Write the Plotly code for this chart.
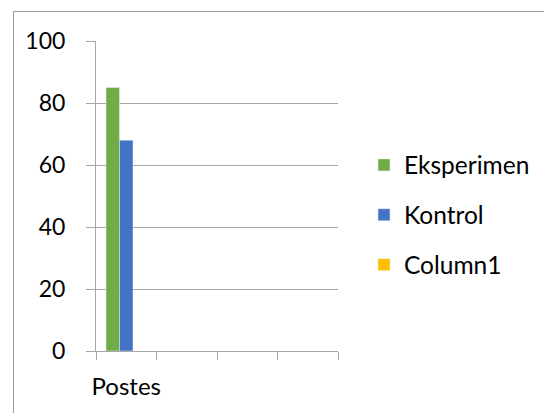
import plotly.graph_objects as go

categories = ["Postes", " ", "  ", "   "]
eksperimen = [85, None, None, None]
kontrol = [68, None, None, None]
column1 = [None, None, None, None]
y_ticks = [0, 20, 40, 60, 80, 100]

FONT = "Lato"
GRID = "#A6A6A6"
OFF = 8  # page body margin offset

fig = go.Figure()
fig.add_bar(x=categories, y=eksperimen, name="Eksperimen", marker_color="#70AD47", legendgroup="a")
fig.add_bar(x=categories, y=kontrol, name="Kontrol", marker_color="#4472C4", legendgroup="b")
fig.add_bar(x=categories, y=column1, name="Column1", marker_color="#FFC000", legendgroup="c")

W, H = 552, 413
L, T = 96 - OFF, 41 - OFF
pw, ph = 242, 310
R, B = W - L - pw, H - T - ph

fig.update_layout(
    width=W, height=H,
    margin=dict(l=L, r=R, t=T, b=B, pad=0, autoexpand=False),
    paper_bgcolor="white", plot_bgcolor="white",
    barmode="group", bargap=0.33, bargroupgap=0,
    font=dict(family=FONT, size=22, color="black"),
    showlegend=True,
    legend=dict(x=(364 - OFF - L) / pw, y=(351 - 215) / ph, xanchor="left", yanchor="middle",
                font=dict(size=24.5), tracegroupgap=15, traceorder="grouped",
                bgcolor="rgba(0,0,0,0)"),
    xaxis=dict(type="category", tickson="boundaries", ticks="outside", ticklen=8,
               tickcolor=GRID, showline=True, linecolor=GRID, linewidth=1,
               showgrid=False, tickfont=dict(size=24), tickangle=0, ticklabelstandoff=14,
               automargin=False),
    yaxis=dict(range=[0, 100], tickvals=y_ticks, ticks="outside", ticklen=9,
               tickcolor=GRID, showline=True, linecolor=GRID, linewidth=1,
               showgrid=True, gridcolor=GRID, gridwidth=1, zeroline=False,
               tickfont=dict(size=23), ticklabelstandoff=16, automargin=False),
)

# outer chart border (reference pixels -> paper fractions)
fig.add_shape(type="rect", xref="paper", yref="paper",
              x0=(13.5 - 96) / pw, x1=(W + 10 - 96) / pw,
              y0=(351 - 11.5) / ph, y1=(351 - (H + 10)) / ph,
              line=dict(color="#999999", width=1), fillcolor="rgba(0,0,0,0)", layer="below")

fig.write_html("out.html")
